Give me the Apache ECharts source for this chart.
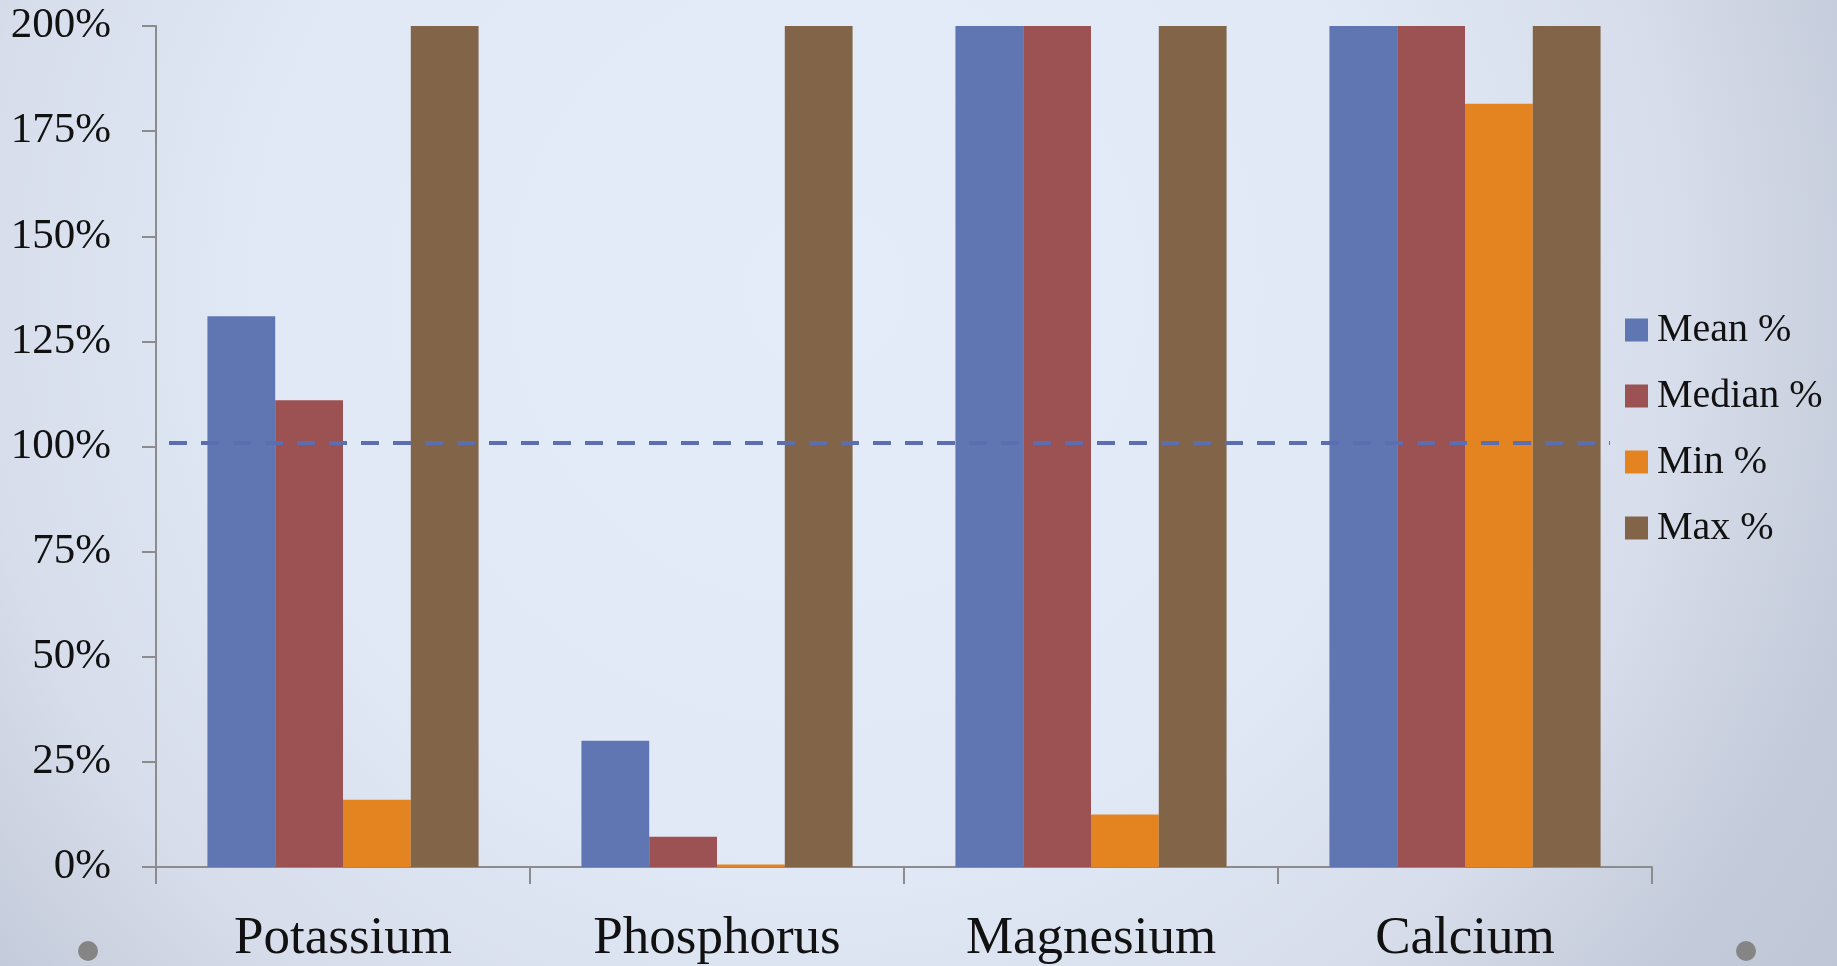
<!DOCTYPE html>
<html>
<head>
<meta charset="utf-8">
<script src="https://cdn.jsdelivr.net/npm/echarts@6/dist/echarts.min.js"></script>
<style>html,body{margin:0;padding:0;}#c{width:1837px;height:966px;}</style>
</head>
<body>
<div id="c"></div>
<script>
const categories = ['Potassium', 'Phosphorus', 'Magnesium', 'Calcium'];
const meanPct = [131, 30, 200, 200];
const medianPct = [111, 7.2, 200, 200];
const minPct = [16, 0.6, 12.5, 181.5];
const maxPct = [200, 200, 200, 200];
const referenceLine = 101;
const yTicks = { min: 0, max: 200, interval: 25 };

const FONT = '"Liberation Serif", "DejaVu Serif", serif';
const chart = echarts.init(document.getElementById('c'));
chart.setOption({
  animation: false,
  backgroundColor: {
    type: 'radial', x: 0.45, y: 0.3, r: 1.3,
    colorStops: [
      { offset: 0, color: '#E3ECF8' },
      { offset: 0.45, color: '#E1E9F6' },
      { offset: 0.68, color: '#D7DDEA' },
      { offset: 0.85, color: '#C4CBDA' },
      { offset: 1, color: '#BEC5D5' }
    ]
  },
  color: ['#5F76B3', '#9C5152', '#E48420', '#826549'],
  grid: { left: 156, right: 185, top: 26, bottom: 98, containLabel: false },
  legend: {
    orient: 'vertical',
    left: 1620, top: 305,
    itemWidth: 23, itemHeight: 23, itemGap: 26,
    icon: 'rect',
    textStyle: { fontFamily: FONT, fontSize: 40, color: '#111', lineHeight: 40, padding: [0, 0, 0, 4] },
    data: ['Mean %', 'Median %', 'Min %', 'Max %']
  },
  xAxis: {
    type: 'category',
    data: categories,
    axisLine: { lineStyle: { color: '#8C8C8C', width: 2 } },
    axisTick: { show: true, length: 17, lineStyle: { color: '#8C8C8C', width: 2 } },
    axisLabel: { fontFamily: FONT, fontSize: 53, color: '#111', margin: 46 }
  },
  yAxis: {
    type: 'value',
    min: yTicks.min, max: yTicks.max, interval: yTicks.interval,
    axisLine: { show: true, lineStyle: { color: '#8C8C8C', width: 2 } },
    axisTick: { show: true, length: 14, lineStyle: { color: '#8C8C8C', width: 2 } },
    splitLine: { show: false },
    axisLabel: { fontFamily: FONT, fontSize: 43, color: '#111', margin: 45, formatter: '{value}%' }
  },
  series: [
    { name: 'Mean %', type: 'bar', data: meanPct, barGap: '0%', barCategoryGap: '27.5%' },
    { name: 'Median %', type: 'bar', data: medianPct },
    { name: 'Min %', type: 'bar', data: minPct },
    { name: 'Max %', type: 'bar', data: maxPct,
      markLine: {
        silent: true, symbol: 'none', label: { show: false },
        lineStyle: { color: '#5B6FB0', width: 4, type: [18, 14] },
        data: [[{ x: 169, yAxis: referenceLine }, { x: 1610, yAxis: referenceLine }]],
        z: 10
      }
    }
  ],
  graphic: [
    { type: 'circle', shape: { cx: 88, cy: 951, r: 10 }, style: { fill: '#858585' } },
    { type: 'circle', shape: { cx: 1746, cy: 951, r: 10 }, style: { fill: '#858585' } }
  ]
});
</script>
</body>
</html>
